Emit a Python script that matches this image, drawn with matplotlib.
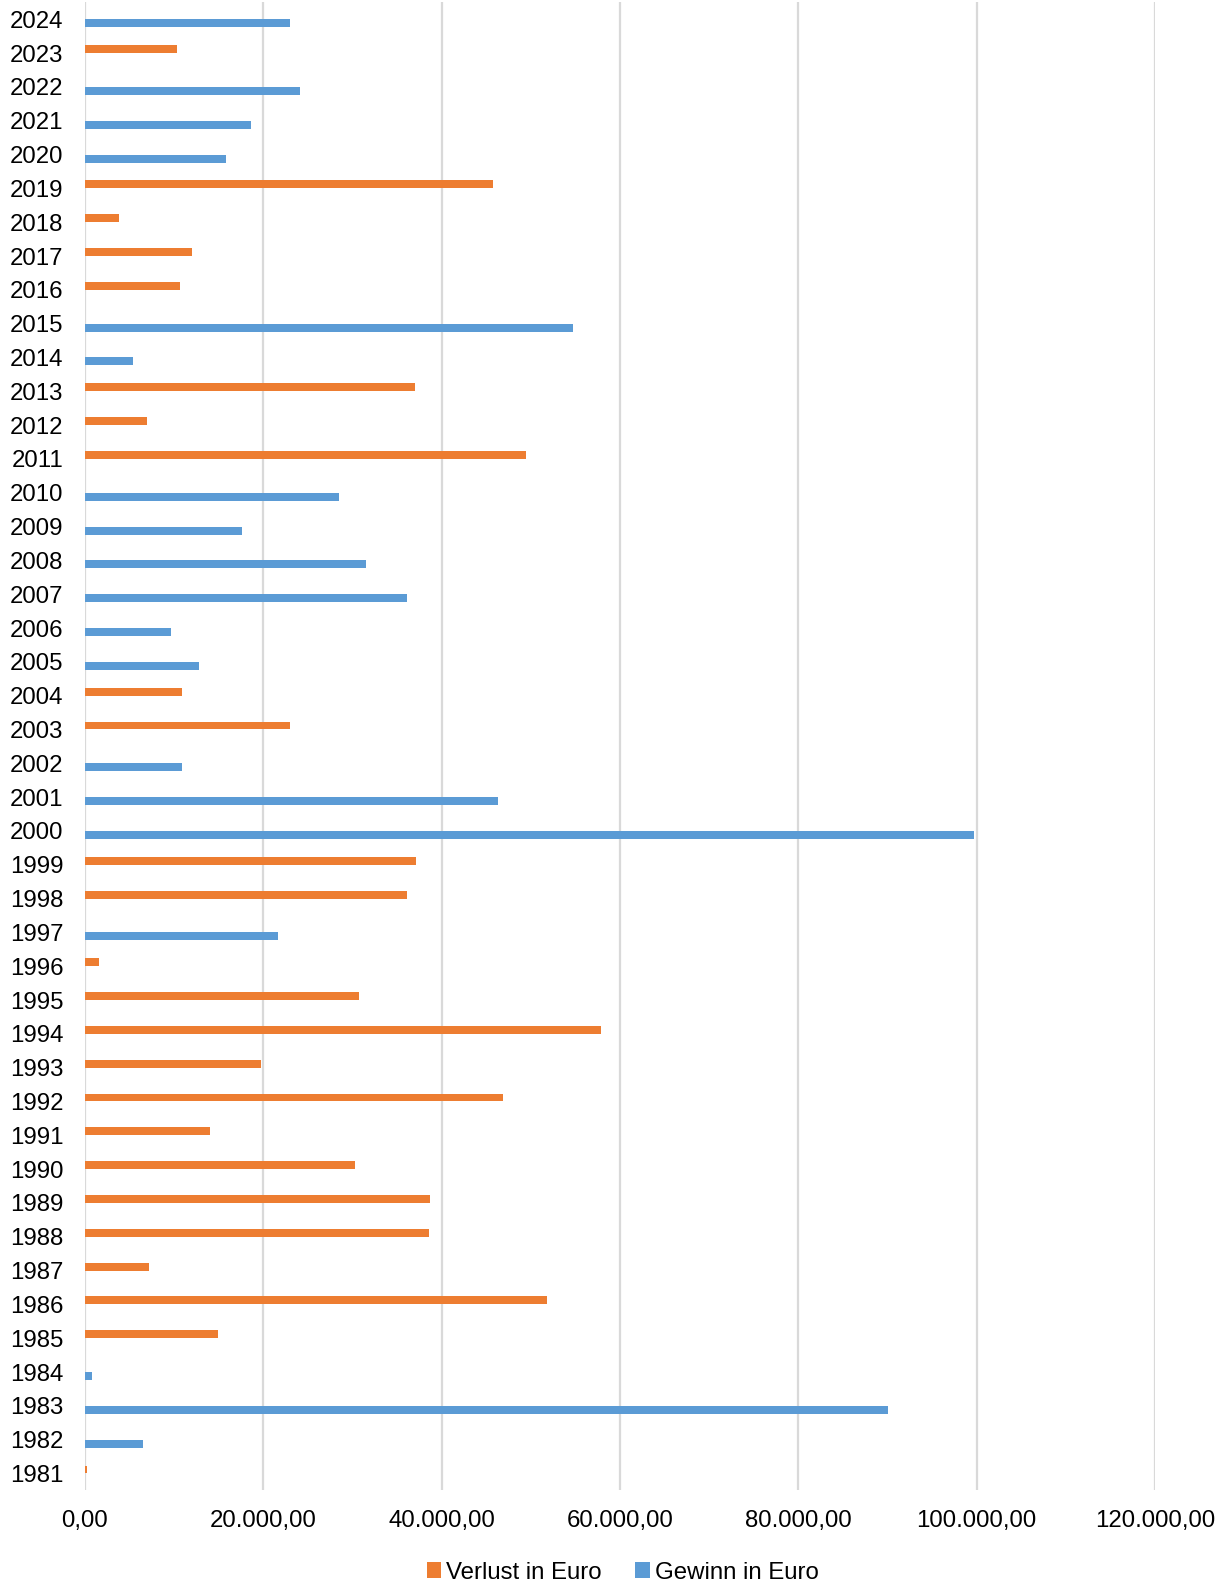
import numpy as np
import matplotlib
matplotlib.use('Agg')
import matplotlib.pyplot as plt
from matplotlib.ticker import FuncFormatter

# ---- data (euro) ----
years = list(range(1981, 2025))
verlust = {
    2023: 10370, 2019: 45760, 2018: 3800, 2017: 11970, 2016: 10650,
    2013: 37040, 2012: 7000, 2011: 49490, 2004: 10850, 2003: 22940,
    1999: 37160, 1998: 36080, 1996: 1520, 1995: 30750, 1994: 57820,
    1993: 19740, 1992: 46850, 1991: 13970, 1990: 30310, 1989: 38680,
    1988: 38560, 1987: 7130, 1986: 51770, 1985: 14860, 1981: 200,
}
gewinn = {
    2024: 22940, 2022: 24060, 2021: 18660, 2020: 15780, 2015: 54770,
    2014: 5330, 2010: 28510, 2009: 17580, 2008: 31470, 2007: 36080,
    2006: 9650, 2005: 12730, 2002: 10890, 2001: 46330, 2000: 99700,
    1997: 21660, 1984: 840, 1983: 90100, 1982: 6450,
}
xticks = [0, 20000, 40000, 60000, 80000, 100000, 120000]

ORANGE = '#ED7D31'
BLUE = '#5B9BD5'
GRID = '#D9D9D9'

plt.rcParams['font.family'] = ['Liberation Sans', 'DejaVu Sans']

def de_fmt(v, pos=None):
    s = f"{v:,.2f}"
    return s.replace(',', 'X').replace('.', ',').replace('X', '.')

fig = plt.figure(figsize=(12.28, 15.82), dpi=100)
ax = fig.add_axes([85/1228, 1 - 1490.4/1582, 1070/1228, (1490.4 - 2.4)/1582])

pos = np.arange(len(years))
v_vals = np.array([verlust.get(y, 0) for y in years], float)
g_vals = np.array([gewinn.get(y, 0) for y in years], float)
bh = 0.236
ax.barh(pos + bh/2, v_vals, height=bh, color=ORANGE, label='Verlust in Euro', zorder=3)
ax.barh(pos - bh/2, g_vals, height=bh, color=BLUE, label='Gewinn in Euro', zorder=3)

ax.set_xlim(0, 120000)
ax.set_ylim(-0.5, len(years) - 0.5)
ax.set_yticks(pos)
ax.set_yticklabels([str(y) for y in years])
ax.set_xticks(xticks)
ax.xaxis.set_major_formatter(FuncFormatter(de_fmt))
ax.tick_params(axis='both', length=0, labelsize=17.3)
ax.tick_params(axis='y', pad=15.5)
ax.tick_params(axis='x', pad=14)
ax.grid(axis='x', color=GRID, linewidth=1.6, zorder=0)
for s in ax.spines.values():
    s.set_visible(False)

fig.legend(loc='center', bbox_to_anchor=(0.507, 0.006), ncol=2, frameon=False,
           fontsize=17.3, handlelength=0.6, handleheight=0.6, handletextpad=0.2,
           columnspacing=1.4)

fig.savefig('out.png', dpi=100)
